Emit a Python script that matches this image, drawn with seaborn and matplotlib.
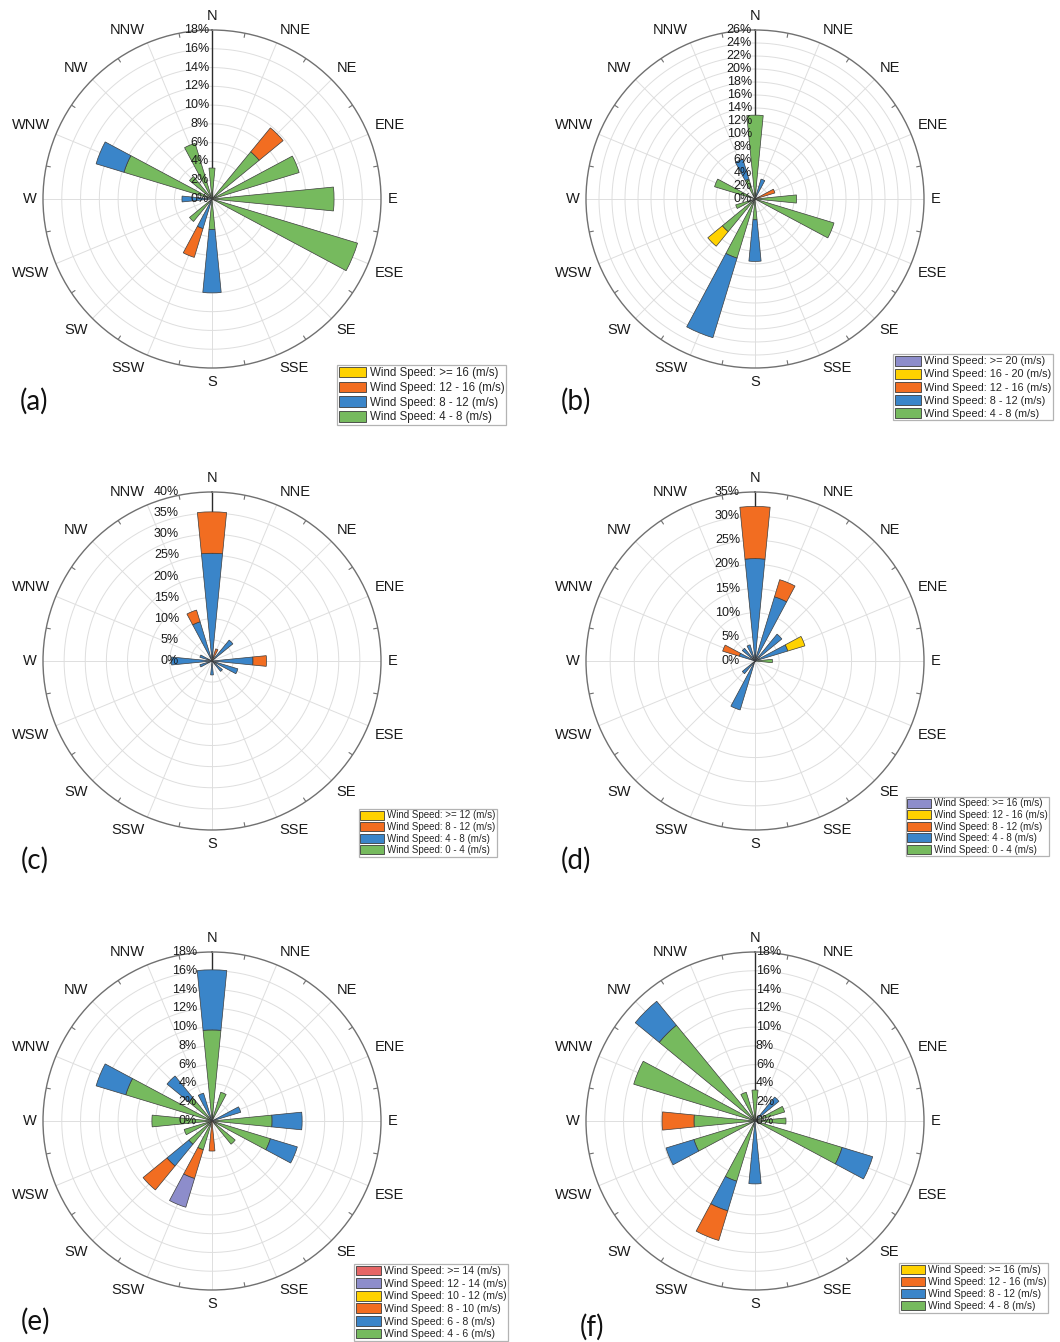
import numpy as np
import matplotlib
matplotlib.use("Agg")
import matplotlib.pyplot as plt
import seaborn as sns
from matplotlib.patches import Patch

sns.set_theme(style="white")
plt.rcParams['font.family'] = ['Liberation Sans', 'DejaVu Sans']

# ---------------- data ----------------
directions = ["N", "NNE", "NE", "ENE", "E", "ESE", "SE", "SSE",
              "S", "SSW", "SW", "WSW", "W", "WNW", "NW", "NNW"]

# (a)
a_4_8   = [3.3, 0, 6.5, 9.7, 13.0, 16.2, 0, 0, 3.25, 0, 3.1, 0, 0, 9.8, 3.1, 6.2]
a_8_12  = [0, 0, 0, 0, 0, 0, 0, 0, 6.75, 3.3, 0, 0, 3.2, 3.1, 0, 0]
a_12_16 = [0, 0, 3.3, 0, 0, 0, 0, 0, 0, 3.2, 0, 0, 0, 0, 0, 0]
a_ge16  = [0] * 16
a_labels = [">= 16", "12 - 16", "8 - 12", "4 - 8"]

# (b)
b_4_8   = [12.9, 0, 0, 0, 6.4, 12.7, 0, 0, 3.2, 9.5, 6.5, 3.1, 0, 6.5, 0, 3.2]
b_8_12  = [0, 3.2, 0, 0, 0, 0, 0, 0, 6.4, 12.8, 0, 0, 0, 0, 0, 3.2]
b_12_16 = [0, 0, 0, 3.2, 0, 0, 0, 0, 0, 0, 0, 0, 0, 0, 0, 0]
b_16_20 = [0, 0, 0, 0, 0, 0, 0, 0, 0, 0, 2.9, 0, 0, 0, 0, 0]
b_ge20  = [0] * 16
b_labels = [">= 20", "16 - 20", "12 - 16", "8 - 12", "4 - 8"]

# (c)
c_0_4   = [0] * 16
c_4_8   = [25.5, 0, 6.4, 0, 9.7, 6.4, 3.2, 0, 3.3, 0, 0, 3.0, 9.6, 3.0, 0, 9.7]
c_8_12  = [9.8, 3.0, 0, 0, 3.2, 0, 0, 0, 0, 0, 0, 0, 0, 0, 0, 2.9]
c_ge12  = [0] * 16
c_labels = [">= 12", "8 - 12", "4 - 8", "0 - 4"]

# (d)
d_0_4   = [0, 0, 0, 0, 3.6, 0, 0, 0, 0, 0, 0, 0, 0, 0, 0, 0]
d_4_8   = [21.2, 13.9, 7.2, 7.1, 0, 0, 0, 0, 0, 10.6, 3.4, 0, 0, 3.4, 3.4, 3.5]
d_8_12  = [10.8, 3.7, 0, 0, 0, 0, 0, 0, 0, 0, 0, 0, 0, 3.6, 0, 0]
d_12_16 = [0, 0, 0, 3.7, 0, 0, 0, 0, 0, 0, 0, 0, 0, 0, 0, 0]
d_ge16  = [0] * 16
d_labels = [">= 16", "12 - 16", "8 - 12", "4 - 8", "0 - 4"]

# (e)
e_4_6   = [9.7, 3.2, 0, 0, 6.4, 6.5, 3.2, 0, 0, 3.2, 3.2, 3.1, 6.4, 9.6, 3.2, 0]
e_6_8   = [6.4, 0, 0, 3.2, 3.2, 3.0, 0, 0, 0, 0, 3.0, 0, 0, 3.3, 3.0, 3.1]
e_8_10  = [0, 0, 0, 0, 0, 0, 0, 0, 3.2, 3.2, 3.3, 0, 0, 0, 0, 0]
e_10_12 = [0] * 16
e_12_14 = [0, 0, 0, 0, 0, 0, 0, 0, 0, 3.2, 0, 0, 0, 0, 0, 0]
e_ge14  = [0] * 16
e_labels = [">= 14", "12 - 14", "10 - 12", "8 - 10", "6 - 8", "4 - 6"]

# (f)
f_4_8   = [3.3, 0, 0, 3.3, 3.3, 9.7, 0, 0, 0, 6.7, 0, 6.8, 6.5, 13.5, 13.2, 3.2]
f_8_12  = [0, 0, 3.3, 0, 0, 3.4, 0, 0, 6.7, 3.3, 0, 3.1, 0, 0, 3.3, 0]
f_12_16 = [0, 0, 0, 0, 0, 0, 0, 0, 0, 3.3, 0, 0, 3.4, 0, 0, 0]
f_ge16  = [0] * 16
f_labels = [">= 16", "12 - 16", "8 - 12", "4 - 8"]

# ---------------- style ----------------
GREEN, BLUE, ORANGE = "#76BA5E", "#3A85C9", "#F26D21"
YELLOW, PURPLE, RED = "#FFD200", "#8D8DCB", "#E56666"
pal = sns.color_palette([GREEN, BLUE, ORANGE, YELLOW, PURPLE, RED])

W, H = 1060, 1342
R = 169
fig = plt.figure(figsize=(W / 100, H / 100), dpi=100)
fig.patch.set_facecolor("white")

theta = np.deg2rad(np.arange(16) * 22.5)


def rose(center, rmax, step, stacks, labels, lab_ha, lab_dx, leg_xy, leg_fs,
         leg_ls, panel, panel_xy, panel_fs=20):
    cx, cy = center
    ax = fig.add_axes([(cx - R) / W, 1 - (cy + R) / H, 2 * R / W, 2 * R / H],
                      projection="polar")
    ax.set_theta_zero_location("N")
    ax.set_theta_direction(-1)
    ax.set_ylim(0, rmax)
    ax.grid(False)
    ax.set_xticks([])
    ax.set_yticks([])
    ax.set_facecolor("white")
    ax.spines["polar"].set_color("#707070")
    ax.spines["polar"].set_linewidth(1.0)

    ticks = np.arange(0, rmax + 0.01, step)
    circ = np.linspace(0, 2 * np.pi, 400)
    for r in ticks[1:-1]:
        ax.plot(circ, np.full_like(circ, r), color="#dedede", lw=0.7, zorder=0)
    for t in theta:
        ax.plot([t, t], [0, rmax], color="#dedede", lw=0.7, zorder=0)
    for t in theta + np.pi / 16:
        ax.plot([t, t], [rmax * 0.975, rmax], color="#707070", lw=0.8, zorder=1)
    ax.plot([0, 0], [0, rmax], color="#2b2b2b", lw=1.0, zorder=1)

    bottom = np.zeros(16)
    for i, vals in enumerate(stacks):
        vals = np.asarray(vals, dtype=float)
        m = vals > 0
        if m.any():
            ax.bar(theta[m], vals[m], width=np.pi / 16, bottom=bottom[m],
                   color=pal[i], edgecolor="#3c3c3c", linewidth=0.5, zorder=3)
        bottom += vals

    for v in ticks:
        ax.annotate(f"{v:g}%", xy=(0, v), xytext=(lab_dx, 0),
                    textcoords="offset pixels", ha=lab_ha, va="center",
                    fontsize=9, color="#1a1a1a", zorder=6, annotation_clip=False)

    for t, name in zip(theta, directions):
        s, c = np.sin(t), np.cos(t)
        ha = "left" if s > 0.01 else ("right" if s < -0.01 else "center")
        va = "bottom" if c > 0.01 else ("top" if c < -0.01 else "center")
        ax.text(t, rmax * 1.04, name, ha=ha, va=va, fontsize=10.5,
                color="#1a1a1a", clip_on=False)

    n = len(stacks)
    handles = [Patch(facecolor=pal[i], edgecolor="#3c3c3c", linewidth=0.6)
               for i in range(n)][::-1]
    leg_text = [f"Wind Speed: {l} (m/s)" for l in labels]
    leg = fig.legend(handles, leg_text, loc="upper left",
                     bbox_to_anchor=(leg_xy[0] / W, 1 - leg_xy[1] / H),
                     bbox_transform=fig.transFigure, fontsize=leg_fs,
                     frameon=True, fancybox=False, borderpad=0.15,
                     labelspacing=leg_ls, handlelength=2.4, handleheight=1.05,
                     handletextpad=0.3, borderaxespad=0)
    leg.get_frame().set_edgecolor("#a0a0a0")
    leg.get_frame().set_linewidth(0.9)
    for txt in leg.get_texts():
        txt.set_color("#262626")

    fig.text(panel_xy[0] / W, 1 - panel_xy[1] / H, panel, ha="center",
             va="center", fontsize=panel_fs, family=["Lato", "DejaVu Sans"],
             color="#111111")
    return ax


rose((212, 199), 18, 2, [a_4_8, a_8_12, a_12_16, a_ge16], a_labels,
     "right", -3, (337, 365), 8.3, 0.22, "(a)", (34, 401))
rose((755, 199), 26, 2, [b_4_8, b_8_12, b_12_16, b_16_20, b_ge20], b_labels,
     "right", -3, (893, 354), 7.8, 0.22, "(b)", (576, 401))
rose((212, 661), 40, 5, [c_0_4, c_4_8, c_8_12, c_ge12], c_labels,
     "right", -33, (359, 809), 7, 0.16, "(c)", (35, 860))
rose((755, 661), 35, 5, [d_0_4, d_4_8, d_8_12, d_12_16, d_ge16], d_labels,
     "right", -15, (906, 797), 7, 0.16, "(d)", (576, 860))
rose((212, 1121), 18, 2, [e_4_6, e_6_8, e_8_10, e_10_12, e_12_14, e_ge14],
     e_labels, "right", -15, (354, 1264), 7.6, 0.2, "(e)", (35, 1321))
rose((755, 1121), 18, 2, [f_4_8, f_8_12, f_12_16, f_ge16], f_labels,
     "left", 1, (899, 1263), 7.3, 0.2, "(f)", (592, 1327))

fig.savefig("out.png", dpi=100, facecolor="white")
